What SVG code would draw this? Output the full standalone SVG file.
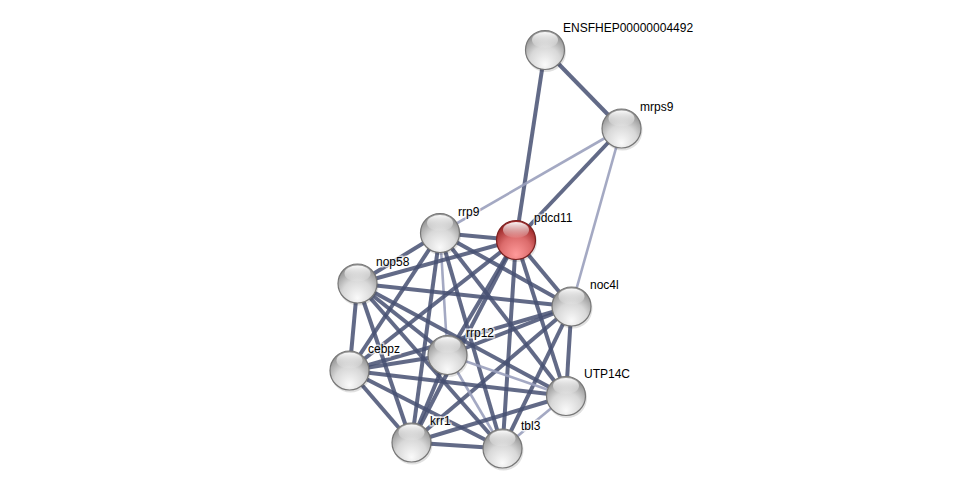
<svg xmlns="http://www.w3.org/2000/svg" width="976" height="493" viewBox="0 0 976 493">
<defs>
<radialGradient id="gBody" cx="50%" cy="75%" r="65%" fx="50%" fy="88%">
<stop offset="0" stop-color="#fafafa"/>
<stop offset="0.6" stop-color="#d8d8d8"/>
<stop offset="1" stop-color="#9a9a9a"/>
</radialGradient>
<radialGradient id="rBody" cx="50%" cy="75%" r="65%" fx="50%" fy="88%">
<stop offset="0" stop-color="#ff9a9a"/>
<stop offset="0.6" stop-color="#dc6c6c"/>
<stop offset="1" stop-color="#a02c2c"/>
</radialGradient>
<linearGradient id="hl" x1="0" y1="0" x2="0" y2="1">
<stop offset="0" stop-color="#ffffff" stop-opacity="0.95"/>
<stop offset="1" stop-color="#ffffff" stop-opacity="0.05"/>
</linearGradient>
</defs>
<style>
.e{stroke:#465072;stroke-width:4;stroke-opacity:0.85;fill:none}
.l{stroke:#9aa0bc;stroke-width:2.6;stroke-opacity:0.9;fill:none}
.n{fill:url(#gBody);stroke:#777;stroke-width:1.2}
.r{fill:url(#rBody);stroke:#7a2020;stroke-width:1.2}
.s{fill:#000;fill-opacity:0.12}
.h{fill:url(#hl)}
.t{font-family:"Liberation Sans",Arial,sans-serif;font-size:12px;fill:#000;stroke:#fff;stroke-width:3;stroke-opacity:0.7;paint-order:stroke}
</style>
<rect width="976" height="493" fill="#fff"/>
<g id="connectors">
<line class="e" x1="545" y1="50" x2="621.5" y2="128.5"/>
<line class="e" x1="545" y1="50" x2="516" y2="240"/>
<line class="e" x1="621.5" y1="128.5" x2="516" y2="240"/>
<line class="l" x1="621.5" y1="128.5" x2="440" y2="233"/>
<line class="l" x1="621.5" y1="128.5" x2="571.5" y2="306.5"/>
<line class="e" x1="440" y1="233" x2="516" y2="240"/>
<line class="e" x1="440" y1="233" x2="357.5" y2="283.5"/>
<line class="e" x1="440" y1="233" x2="571.5" y2="306.5"/>
<line class="l" x1="440" y1="233" x2="447.5" y2="355"/>
<line class="e" x1="440" y1="233" x2="349.5" y2="370.5"/>
<line class="e" x1="440" y1="233" x2="566" y2="396"/>
<line class="e" x1="440" y1="233" x2="411.5" y2="442.5"/>
<line class="e" x1="440" y1="233" x2="502.5" y2="448.5"/>
<line class="e" x1="516" y1="240" x2="357.5" y2="283.5"/>
<line class="e" x1="516" y1="240" x2="571.5" y2="306.5"/>
<line class="e" x1="516" y1="240" x2="447.5" y2="355"/>
<line class="e" x1="516" y1="240" x2="349.5" y2="370.5"/>
<line class="e" x1="516" y1="240" x2="566" y2="396"/>
<line class="e" x1="516" y1="240" x2="411.5" y2="442.5"/>
<line class="e" x1="516" y1="240" x2="502.5" y2="448.5"/>
<line class="e" x1="357.5" y1="283.5" x2="571.5" y2="306.5"/>
<line class="e" x1="357.5" y1="283.5" x2="447.5" y2="355"/>
<line class="e" x1="357.5" y1="283.5" x2="349.5" y2="370.5"/>
<line class="e" x1="357.5" y1="283.5" x2="566" y2="396"/>
<line class="e" x1="357.5" y1="283.5" x2="411.5" y2="442.5"/>
<line class="e" x1="357.5" y1="283.5" x2="502.5" y2="448.5"/>
<line class="e" x1="571.5" y1="306.5" x2="447.5" y2="355"/>
<line class="e" x1="571.5" y1="306.5" x2="349.5" y2="370.5"/>
<line class="e" x1="571.5" y1="306.5" x2="566" y2="396"/>
<line class="e" x1="571.5" y1="306.5" x2="411.5" y2="442.5"/>
<line class="e" x1="571.5" y1="306.5" x2="502.5" y2="448.5"/>
<line class="e" x1="447.5" y1="355" x2="349.5" y2="370.5"/>
<line class="l" x1="447.5" y1="355" x2="566" y2="396"/>
<line class="e" x1="447.5" y1="355" x2="411.5" y2="442.5"/>
<line class="l" x1="447.5" y1="355" x2="502.5" y2="448.5"/>
<line class="e" x1="349.5" y1="370.5" x2="566" y2="396"/>
<line class="e" x1="349.5" y1="370.5" x2="411.5" y2="442.5"/>
<line class="e" x1="349.5" y1="370.5" x2="502.5" y2="448.5"/>
<line class="e" x1="566" y1="396" x2="411.5" y2="442.5"/>
<line class="l" x1="566" y1="396" x2="502.5" y2="448.5"/>
<line class="e" x1="411.5" y1="442.5" x2="502.5" y2="448.5"/>
</g>
<g id="node-ENSFHEP00000004492"><circle class="s" cx="546" cy="52" r="20"/><circle class="n" cx="545" cy="50" r="19.5"/><ellipse class="h" cx="545" cy="40" rx="13" ry="8"/><text class="t" x="563" y="32">ENSFHEP00000004492</text></g>
<g id="node-mrps9"><circle class="s" cx="622.5" cy="130.5" r="20"/><circle class="n" cx="621.5" cy="128.5" r="19.5"/><ellipse class="h" cx="621.5" cy="118.5" rx="13" ry="8"/><text class="t" x="640" y="111">mrps9</text></g>
<g id="node-rrp9"><circle class="s" cx="441" cy="235" r="20"/><circle class="n" cx="440" cy="233" r="19.5"/><ellipse class="h" cx="440" cy="223" rx="13" ry="8"/><text class="t" x="458" y="216">rrp9</text></g>
<g id="node-pdcd11"><circle class="s" cx="517" cy="242" r="20"/><circle class="r" cx="516" cy="240" r="19.5"/><ellipse class="h" cx="516" cy="230" rx="13" ry="8"/><text class="t" x="534" y="222">pdcd11</text></g>
<g id="node-nop58"><circle class="s" cx="358.5" cy="285.5" r="20"/><circle class="n" cx="357.5" cy="283.5" r="19.5"/><ellipse class="h" cx="357.5" cy="273.5" rx="13" ry="8"/><text class="t" x="376" y="266">nop58</text></g>
<g id="node-noc4l"><circle class="s" cx="572.5" cy="308.5" r="20"/><circle class="n" cx="571.5" cy="306.5" r="19.5"/><ellipse class="h" cx="571.5" cy="296.5" rx="13" ry="8"/><text class="t" x="590" y="289">noc4l</text></g>
<g id="node-rrp12"><circle class="s" cx="448.5" cy="357" r="20"/><circle class="n" cx="447.5" cy="355" r="19.5"/><ellipse class="h" cx="447.5" cy="345" rx="13" ry="8"/><text class="t" x="466" y="337">rrp12</text></g>
<g id="node-cebpz"><circle class="s" cx="350.5" cy="372.5" r="20"/><circle class="n" cx="349.5" cy="370.5" r="19.5"/><ellipse class="h" cx="349.5" cy="360.5" rx="13" ry="8"/><text class="t" x="368" y="353">cebpz</text></g>
<g id="node-UTP14C"><circle class="s" cx="567" cy="398" r="20"/><circle class="n" cx="566" cy="396" r="19.5"/><ellipse class="h" cx="566" cy="386" rx="13" ry="8"/><text class="t" x="584" y="378">UTP14C</text></g>
<g id="node-krr1"><circle class="s" cx="412.5" cy="444.5" r="20"/><circle class="n" cx="411.5" cy="442.5" r="19.5"/><ellipse class="h" cx="411.5" cy="432.5" rx="13" ry="8"/><text class="t" x="430" y="425">krr1</text></g>
<g id="node-tbl3"><circle class="s" cx="503.5" cy="450.5" r="20"/><circle class="n" cx="502.5" cy="448.5" r="19.5"/><ellipse class="h" cx="502.5" cy="438.5" rx="13" ry="8"/><text class="t" x="521" y="430">tbl3</text></g>
</svg>
